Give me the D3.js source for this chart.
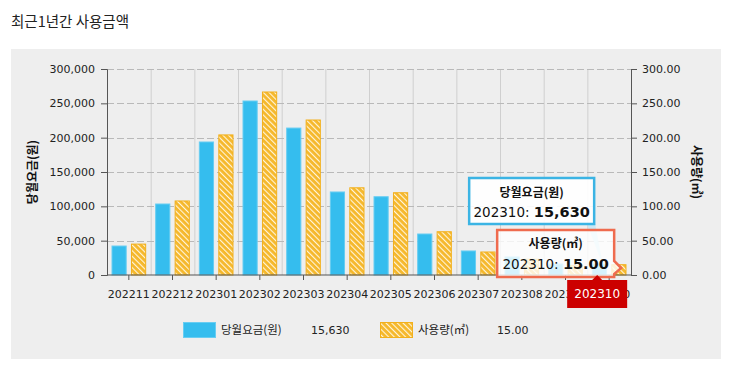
<!DOCTYPE html>
<html>
<head>
<meta charset="utf-8">
<script src="https://cdn.jsdelivr.net/npm/d3@7"></script>
<style>
  body { margin: 0; background: #fff; }
  svg { display: block; }
  .tick text { font-family: "DejaVu Sans", sans-serif; font-size: 11px; fill: #222; }
  .kr { font-family: "Noto Sans CJK KR", sans-serif; }
</style>
</head>
<body>
<div id="chart"></div>
<script>
// Monthly fee (won) and usage (m3) for the last 12 months
const months = ["202211", "202212", "202301", "202302", "202303", "202304",
  "202305", "202306", "202307", "202308", "202309", "202310"];
const fees = [42200, 103400, 193700, 253400, 214000, 120900,
  114000, 59700, 35000, 26200, 16000, 15630];
const usage = [45.0, 107.8, 204.0, 266.5, 225.7, 127.0,
  119.8, 63.0, 33.5, 23.0, 14.0, 15.0];
const feeTicks = [0, 50000, 100000, 150000, 200000, 250000, 300000];
const useTicks = [0, 50, 100, 150, 200, 250, 300];

const W = 733, H = 368;
const margin = { top: 69, right: 102, bottom: 93, left: 107 };

const svg = d3.select("#chart").append("svg")
  .attr("width", W).attr("height", H);

// title + gray panel
svg.append("text").attr("class", "kr")
  .attr("x", 11).attr("y", 27)
  .style("font-size", "14.5px").attr("fill", "#222")
  .text("최근1년간 사용금액");

svg.append("rect")
  .attr("x", 11).attr("y", 49).attr("width", 710).attr("height", 310)
  .attr("fill", "#eeeeee");

// stripes for the usage bars
const defs = svg.append("defs");
defs.append("pattern")
  .attr("id", "stripes")
  .attr("patternUnits", "userSpaceOnUse")
  .attr("width", 4).attr("height", 4)
  .attr("patternTransform", "rotate(-45)")
  .call(p => {
    p.append("rect").attr("width", 4).attr("height", 4).attr("fill", "#f5b82c");
    p.append("rect").attr("width", 1.1).attr("height", 4).attr("fill", "#fff5dc");
  });

const x = d3.scaleBand().domain(months)
  .range([margin.left, W - margin.right]);
const x1 = d3.scaleBand().domain(["fee", "use"])
  .range([4.5, x.bandwidth() - 4.5]).paddingInner(0.22);
const yL = d3.scaleLinear().domain([0, 300000])
  .range([H - margin.bottom, margin.top]);
const yR = d3.scaleLinear().domain([0, 300])
  .range([H - margin.bottom, margin.top]);

// grid
svg.append("g").selectAll("line")
  .data(months.slice(1))
  .join("line")
  .attr("x1", d => x(d) + 0.5).attr("x2", d => x(d) + 0.5)
  .attr("y1", margin.top).attr("y2", H - margin.bottom)
  .attr("stroke", "#cfcfcf");

svg.append("g").selectAll("line")
  .data(feeTicks.slice(1))
  .join("line")
  .attr("x1", margin.left).attr("x2", W - margin.right)
  .attr("y1", d => Math.round(yL(d)) + 0.5).attr("y2", d => Math.round(yL(d)) + 0.5)
  .attr("stroke", "#b9b9b9")
  .attr("stroke-dasharray", "7,3");

// bars
const groups = svg.append("g").selectAll("g")
  .data(months)
  .join("g")
  .attr("transform", d => `translate(${x(d)},0)`);

groups.append("rect")
  .attr("x", x1("fee") + 0.5)
  .attr("y", (d, i) => yL(fees[i]))
  .attr("width", x1.bandwidth() - 1)
  .attr("height", (d, i) => yL(0) - yL(fees[i]))
  .attr("fill", "#35bdee")
  .attr("stroke", "#68cdf2");

groups.append("rect")
  .attr("x", x1("use") + 0.5)
  .attr("y", (d, i) => yR(usage[i]))
  .attr("width", x1.bandwidth() - 1)
  .attr("height", (d, i) => yR(0) - yR(usage[i]))
  .attr("fill", "url(#stripes)")
  .attr("stroke", "#f2b01c");

// axes
const axisL = svg.append("g")
  .attr("transform", `translate(${margin.left},0)`)
  .call(d3.axisLeft(yL).tickValues(feeTicks).tickFormat(d3.format(",")).tickSize(6).tickPadding(6));
const axisR = svg.append("g")
  .attr("transform", `translate(${W - margin.right},0)`)
  .call(d3.axisRight(yR).tickValues(useTicks).tickFormat(d3.format(".2f")).tickSize(6).tickPadding(5));
const axisB = svg.append("g")
  .attr("transform", `translate(0,${H - margin.bottom})`)
  .call(d3.axisBottom(x).tickSize(5).tickPadding(10).tickSizeOuter(0));

[axisL, axisR, axisB].forEach(a => {
  a.select(".domain").attr("stroke", "#555");
  a.selectAll(".tick line").attr("stroke", "#555");
});
axisB.select(".domain").attr("d", `M${margin.left},0H${W - margin.right}`);

// axis titles
svg.append("text").attr("class", "kr")
  .attr("transform", `translate(37,${(margin.top + H - margin.bottom) / 2}) rotate(-90)`)
  .attr("text-anchor", "middle")
  .style("font-size", "12px").style("font-weight", "bold").attr("fill", "#111")
  .text("당월요금(원)");
svg.append("text").attr("class", "kr")
  .attr("transform", `translate(692,${(margin.top + H - margin.bottom) / 2}) rotate(90)`)
  .attr("text-anchor", "middle")
  .style("font-size", "12px").style("font-weight", "bold").attr("fill", "#111")
  .text("사용량(㎥)");

// legend
const legend = svg.append("g");
legend.append("rect").attr("x", 183.5).attr("y", 322.5).attr("width", 32).attr("height", 15)
  .attr("fill", "#35bdee").attr("stroke", "#68cdf2");
legend.append("text").attr("class", "kr").attr("x", 221).attr("y", 334)
  .style("font-size", "11.5px").attr("fill", "#222").text("당월요금(원)");
legend.append("text").attr("x", 311).attr("y", 334)
  .style("font-family", "DejaVu Sans").style("font-size", "11px").attr("fill", "#222")
  .text(d3.format(",")(fees[fees.length - 1]));
legend.append("rect").attr("x", 380.5).attr("y", 322.5).attr("width", 32).attr("height", 15)
  .attr("fill", "url(#stripes)").attr("stroke", "#f2b01c");
legend.append("text").attr("class", "kr").attr("x", 418).attr("y", 334)
  .style("font-size", "11.5px").attr("fill", "#222").text("사용량(㎥)");
legend.append("text").attr("x", 497).attr("y", 334)
  .style("font-family", "DejaVu Sans").style("font-size", "11px").attr("fill", "#222")
  .text(d3.format(".2f")(usage[usage.length - 1]));

// hover tooltips on the last month
const last = months[months.length - 1];
const cx = x(last) + x.bandwidth() / 2;
const tip = svg.append("g");

// blue tooltip tail towards the fee bar
tip.append("path")
  .attr("d", `M${cx - 22},224L${cx - 14},224L${cx - 6},${yL(fees[11]) + 2}Z`)
  .attr("fill", "#bfe7f8").attr("opacity", 0.8);

tip.append("rect")
  .attr("x", cx - 140).attr("y", 178).attr("width", 125).attr("height", 46)
  .attr("fill", "#fff").attr("fill-opacity", 0.9)
  .attr("stroke", "#3bb4e4").attr("stroke-width", 2.5);
tip.append("text").attr("class", "kr")
  .attr("x", cx - 77.5).attr("y", 197).attr("text-anchor", "middle")
  .style("font-size", "12px").style("font-weight", "bold").attr("fill", "#111")
  .text("당월요금(원)");
tip.append("text")
  .attr("x", cx - 77.5).attr("y", 217).attr("text-anchor", "middle")
  .style("font-family", "DejaVu Sans").attr("fill", "#111")
  .call(t => {
    t.append("tspan").style("font-size", "13.5px").text(last + ": ");
    t.append("tspan").style("font-size", "14.5px").style("font-weight", "bold")
      .text(d3.format(",")(fees[11]));
  });

// red tooltip with arrow pointing right
const rx0 = cx - 112, rx1 = cx + 5, ry0 = 230, ry1 = 277;
tip.append("path")
  .attr("d", `M${rx0},${ry0}H${rx1}V${ry1 - 16}L${rx1 + 7},${ry1 - 9}L${rx1},${ry1 - 3}V${ry1}H${rx0}Z`)
  .attr("fill", "#fff").attr("fill-opacity", 0.8)
  .attr("stroke", "#ef6b4e").attr("stroke-width", 2.5);
tip.append("text").attr("class", "kr")
  .attr("x", (rx0 + rx1) / 2).attr("y", 248).attr("text-anchor", "middle")
  .style("font-size", "12px").style("font-weight", "bold").attr("fill", "#111")
  .text("사용량(㎥)");
tip.append("text")
  .attr("x", (rx0 + rx1) / 2).attr("y", 269).attr("text-anchor", "middle")
  .style("font-family", "DejaVu Sans").attr("fill", "#111")
  .call(t => {
    t.append("tspan").style("font-size", "13.5px").text(last + ": ");
    t.append("tspan").style("font-size", "14.5px").style("font-weight", "bold")
      .text(d3.format(".2f")(usage[11]));
  });

// category crosshair label
const lx = cx - 12;
tip.append("path")
  .attr("d", `M${lx - 30},280H${lx - 5}L${lx},275L${lx + 5},280H${lx + 30}V308H${lx - 30}Z`)
  .attr("fill", "#cc0000");
tip.append("text")
  .attr("x", lx).attr("y", 298).attr("text-anchor", "middle")
  .style("font-family", "DejaVu Sans").style("font-size", "12px").attr("fill", "#fff")
  .text(last);
</script>
</body>
</html>
